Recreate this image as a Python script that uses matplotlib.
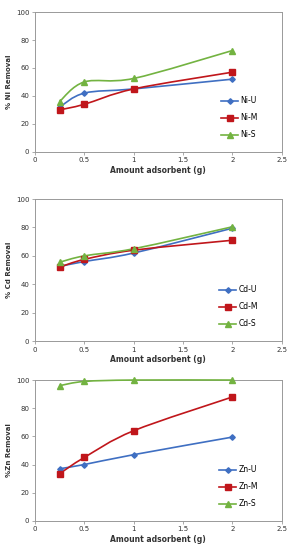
import numpy as np
import matplotlib
matplotlib.use('Agg')
import matplotlib.pyplot as plt
from matplotlib.path import Path
from matplotlib.patches import PathPatch

amount = [0.25, 0.5, 1, 2]

ni_u = [32, 42, 45, 52]
ni_m = [30, 34, 45, 57]
ni_s = [36, 50, 52.5, 72.5]

cd_u = [52.5, 56, 62, 79.5]
cd_m = [52, 57.5, 64, 71]
cd_s = [55.5, 60, 65, 80.5]

zn_u = [37, 40, 47, 59.5]
zn_m = [33.5, 45, 64, 88]
zn_s = [96, 99, 100, 100]

colors = ['#3F6FC2', '#C0161B', '#73B341']
markers = ['D', 's', '^']
msizes = [2.8, 4, 4]

def smooth_path(x, y):
    # excel style smoothed line: cubic bezier through the points
    x = np.asarray(x, float)
    y = np.asarray(y, float)
    pts = np.column_stack([x, y])
    verts = [pts[0]]
    codes = [Path.MOVETO]
    n = len(pts)
    for i in range(n - 1):
        p0 = pts[i - 1] if i > 0 else pts[i]
        p1 = pts[i]
        p2 = pts[i + 1]
        p3 = pts[i + 2] if i + 2 < n else pts[i + 1]
        c1 = p1 + (p2 - p0) / 6.0
        c2 = p2 - (p3 - p1) / 6.0
        verts += [c1, c2, p2]
        codes += [Path.CURVE4] * 3
    return Path(verts, codes)

def panel(ax, series, names, ylabel):
    for ys, name, c, m, ms in zip(series, names, colors, markers, msizes):
        ax.add_patch(PathPatch(smooth_path(amount, ys), fc='none', ec=c,
                               lw=1.2, clip_on=False, zorder=3))
        ax.plot(amount, ys, ls='none', marker=m, color=c, ms=ms,
                clip_on=False, zorder=4)
        ax.plot([], [], color=c, marker=m, ms=ms, lw=1.2, label=name)
    ax.set_xlim(0, 2.5)
    ax.set_ylim(0, 100)
    ax.set_xticks([0, 0.5, 1, 1.5, 2, 2.5])
    ax.set_xticklabels(['0', '0.5', '1', '1.5', '2', '2.5'])
    ax.set_yticks([0, 20, 40, 60, 80, 100])
    ax.tick_params(labelsize=5, length=2, width=0.5, color='#888888',
                   labelcolor='#333333', pad=2)
    for s in ax.spines.values():
        s.set_color('#999999')
        s.set_linewidth(0.7)
    ax.set_xlabel('Amount adsorbent (g)', fontsize=5.5, fontweight='bold',
                  color='#333333', labelpad=2)
    ax.set_ylabel(ylabel, fontsize=5, fontweight='bold', color='#333333',
                  labelpad=3)
    ax.legend(loc='lower right', bbox_to_anchor=(0.93, 0.04), frameon=False,
              fontsize=5.5, handlelength=2.2, labelspacing=1.05,
              handletextpad=0.3)

fig = plt.figure(figsize=(2.93, 5.5), dpi=100)
ax1 = fig.add_axes([0.119, 0.724, 0.843, 0.254])
ax2 = fig.add_axes([0.119, 0.380, 0.843, 0.258])
ax3 = fig.add_axes([0.119, 0.053, 0.843, 0.256])

panel(ax1, [ni_u, ni_m, ni_s], ['Ni-U', 'Ni-M', 'Ni-S'], '% Ni Removal')
panel(ax2, [cd_u, cd_m, cd_s], ['Cd-U', 'Cd-M', 'Cd-S'], '% Cd Removal')
panel(ax3, [zn_u, zn_m, zn_s], ['Zn-U', 'Zn-M', 'Zn-S'], '%Zn Removal')

plt.savefig('out.png', dpi=100)
